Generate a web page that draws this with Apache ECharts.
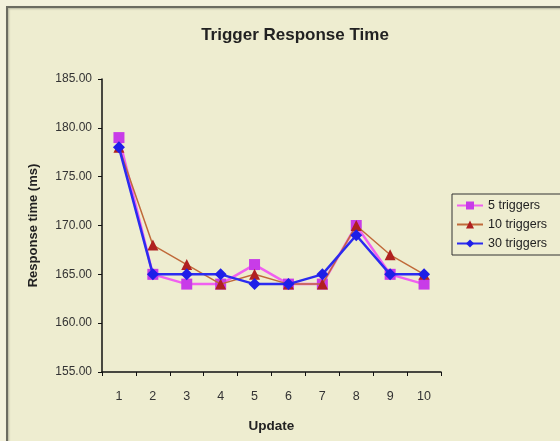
<!DOCTYPE html>
<html><head><meta charset="utf-8">
<script src="https://cdn.jsdelivr.net/npm/echarts@6/dist/echarts.min.js"></script>
<style>html,body{margin:0;padding:0;background:#F3F1DC;}#c{width:560px;height:441px;}</style>
</head><body><div id="c"></div>
<script>
var categories = ['1','2','3','4','5','6','7','8','9','10'];
var s5 = [179,165,164,164,166,164,164,170,165,164];
var s10 = [178,168,166,164,165,164,164,170,167,165];
var s30 = [178,165,165,165,164,164,165,169,165,165];
var seriesNames = ['5 triggers','10 triggers','30 triggers'];
var yTicks = {min:155, max:185, step:5};

var chart = echarts.init(document.getElementById('c'));
var font = 'Liberation Sans, Arial, sans-serif';
chart.setOption({
  backgroundColor: '#F3F1DC',
  animation: false,
  graphic: [{
    type: 'rect', z: -10, silent: true,
    shape: {x: 7, y: 7, width: 620, height: 460},
    style: {fill: '#EEEDD0', stroke: '#6b6b60', lineWidth: 2, shadowColor: 'rgba(0,0,0,0.25)', shadowBlur: 2, shadowOffsetX: 1, shadowOffsetY: 1}
  }],
  title: {
    text: 'Trigger Response Time', left: 290, top: 22, textAlign: 'center',
    textStyle: {fontFamily: font, fontSize: 17, fontWeight: 'bold', color: '#222'}
  },
  legend: {
    left: 452, top: 194, orient: 'vertical', itemGap: 6, itemWidth: 26, itemHeight: 10,
    borderColor: '#333', borderWidth: 1, padding: [5, 40, 5, 4], borderRadius: 0,
    textStyle: {fontFamily: font, fontSize: 12.5, color: '#222'},
    data: seriesNames
  },
  grid: {left: 102, right: 119, top: 79, bottom: 69},
  xAxis: {
    type: 'category', data: categories, boundaryGap: true,
    name: 'Update', nameLocation: 'middle', nameGap: 47,
    nameTextStyle: {fontFamily: font, fontSize: 13.5, fontWeight: 'bold', color: '#222'},
    axisLine: {lineStyle: {color: '#111', width: 1.5}},
    axisTick: {show: true, inside: false, length: 4, alignWithLabel: false, lineStyle: {color: '#111'}},
    axisLabel: {fontFamily: font, fontSize: 12.5, color: '#333', margin: 18}
  },
  yAxis: {
    type: 'value', min: yTicks.min, max: yTicks.max, interval: yTicks.step,
    name: 'Response time (ms)', nameLocation: 'middle', nameGap: 62, nameRotate: 90,
    nameTextStyle: {fontFamily: font, fontSize: 13, fontWeight: 'bold', color: '#222'},
    axisLine: {show: true, lineStyle: {color: '#111', width: 1.5}},
    axisTick: {show: true, inside: false, length: 4, lineStyle: {color: '#111'}},
    splitLine: {show: false},
    axisLabel: {fontFamily: font, fontSize: 12, color: '#333', margin: 10,
      formatter: function(v){ return v.toFixed(2); }}
  },
  series: [
    {name: seriesNames[0], type: 'line', data: s5, symbol: 'rect', symbolSize: 11, z: 2,
     lineStyle: {color: '#F060F0', width: 2.5}, itemStyle: {color: '#C83CE8'}},
    {name: seriesNames[1], type: 'line', data: s10, symbol: 'triangle', symbolSize: 11, z: 3,
     lineStyle: {color: '#C06A3A', width: 1.5}, itemStyle: {color: '#B02020'}},
    {name: seriesNames[2], type: 'line', data: s30, symbol: 'diamond', symbolSize: 12, z: 4,
     lineStyle: {color: '#2B2BF0', width: 2.5}, itemStyle: {color: '#1E1EE8'}}
  ]
});
</script></body></html>
